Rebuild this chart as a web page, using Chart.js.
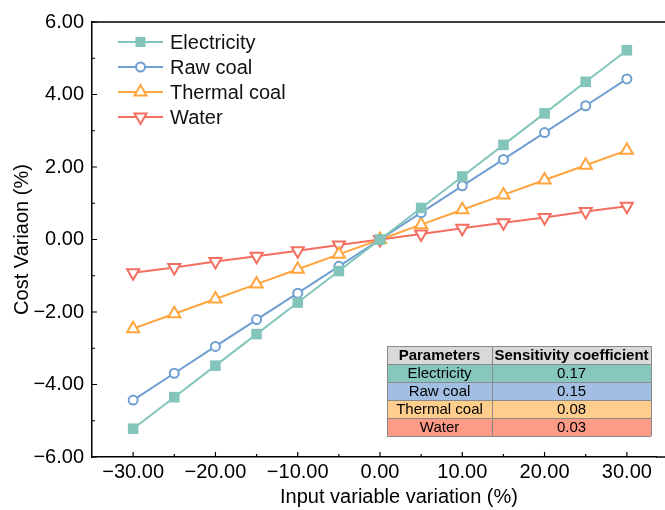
<!DOCTYPE html>
<html><head><meta charset="utf-8">
<script src="https://cdn.jsdelivr.net/npm/chart.js@4/dist/chart.umd.min.js"></script>
<style>html,body{margin:0;padding:0;overflow:hidden;background:#fff}
canvas{display:block}</style>
</head><body>
<canvas id="c" width="665" height="510" style="width:665px;height:510px"></canvas>
<script>
const variation = [-30,-25,-20,-15,-10,-5,0,5,10,15,20,25,30];
const electricity = [-5.22,-4.35,-3.48,-2.61,-1.74,-0.87,0,0.87,1.74,2.61,3.48,4.35,5.22];
const rawCoal = [-4.43,-3.69,-2.95,-2.21,-1.48,-0.74,0,0.74,1.48,2.21,2.95,3.69,4.43];
const thermalCoal = [-2.46,-2.05,-1.64,-1.23,-0.82,-0.41,0,0.41,0.82,1.23,1.64,2.05,2.46];
const water = [-0.92,-0.77,-0.61,-0.46,-0.31,-0.15,0,0.15,0.31,0.46,0.61,0.77,0.92];
const seriesNames = ['Electricity','Raw coal','Thermal coal','Water'];
const sensitivity = ['0.17','0.15','0.08','0.03'];
const tableHeader = ['Parameters','Sensitivity coefficient'];
const xTitle = 'Input variable variation (%)';
const yTitle = 'Cost Variaon (%)';
const xTicks = [-30,-20,-10,0,10,20,30];
const xMinorTicks = [-25,-15,-5,5,15,25];
const yTicks = [-6,-4,-2,0,2,4,6];
const yMinorTicks = [-5,-3,-1,1,3,5];
const xRange = [-35, 35];          // full axis range of the original (cropped on the right)
const ORIGINAL_PLOT_RIGHT = 668;   // where the original plot's right edge would be (off-canvas)

const colors = ['#84c5bb','#6f9fd2','#ffa53e','#f46f60'];
const tableFills = ['#86c7be','#a2bfe3','#ffcd8c','#fe9b87'];
const styles = [
  {pointStyle:'rect', radius:7.5, bg:'#84c5bb', rot:0},
  {pointStyle:'circle', radius:4.5, bg:'#ffffff', rot:0},
  {pointStyle:'triangle', radius:7, bg:'#ffffff', rot:0},
  {pointStyle:'triangle', radius:7, bg:'#ffffff', rot:180}
];
const seriesValues = [electricity, rawCoal, thermalCoal, water];

const datasets = seriesValues.map((vals,i)=>({
  label: seriesNames[i],
  data: variation.map((x,j)=>({x:x, y:vals[j]})),
  borderColor: colors[i],
  backgroundColor: colors[i],
  borderWidth: 2,
  pointStyle: styles[i].pointStyle,
  pointRadius: styles[i].radius,
  pointRotation: styles[i].rot,
  pointBackgroundColor: styles[i].bg,
  pointBorderColor: colors[i],
  pointBorderWidth: i===0?0:2,
  tension: 0,
  order: i
}));

const FONT = 'Liberation Sans, Arial, sans-serif';

function fmt(v){ return (v<0?'\u2212':'') + Math.abs(v).toFixed(2); }

function drawMarker(ctx, i, x, y){
  const c = colors[i];
  ctx.save();
  ctx.lineWidth = 2;
  ctx.strokeStyle = c;
  if(i===0){ ctx.fillStyle = c; ctx.fillRect(x-5,y-5,10,10); }
  else if(i===1){ ctx.fillStyle='#fff'; ctx.beginPath(); ctx.arc(x,y,4.5,0,Math.PI*2); ctx.fill(); ctx.stroke(); }
  else {
    const r = 7, s = (i===3)?-1:1;
    ctx.fillStyle='#fff';
    ctx.beginPath();
    ctx.moveTo(x, y - s*r);
    ctx.lineTo(x + r*Math.sin(Math.PI/3), y + s*r*0.5);
    ctx.lineTo(x - r*Math.sin(Math.PI/3), y + s*r*0.5);
    ctx.closePath(); ctx.fill(); ctx.stroke();
  }
  ctx.restore();
}

const decor = {
  id:'decor',
  afterDraw(chart){
    const ctx = chart.ctx, a = chart.chartArea;
    const xs = chart.scales.x, ys = chart.scales.y;
    ctx.save();
    ctx.strokeStyle = '#000'; ctx.lineWidth = 1.5;
    ctx.beginPath();
    ctx.moveTo(a.left, a.top); ctx.lineTo(chart.width, a.top);
    ctx.moveTo(a.right, a.bottom); ctx.lineTo(chart.width, a.bottom);
    ctx.stroke();
    ctx.lineWidth = 1.2;
    ctx.beginPath();
    xTicks.forEach(v=>{ const p = xs.getPixelForValue(v); ctx.moveTo(p,a.bottom); ctx.lineTo(p,a.bottom-5); });
    xMinorTicks.forEach(v=>{ const p = xs.getPixelForValue(v); ctx.moveTo(p,a.bottom); ctx.lineTo(p,a.bottom-3); });
    yTicks.forEach(v=>{ const p = ys.getPixelForValue(v); ctx.moveTo(a.left,p); ctx.lineTo(a.left+5,p); });
    yMinorTicks.forEach(v=>{ const p = ys.getPixelForValue(v); ctx.moveTo(a.left,p); ctx.lineTo(a.left+3,p); });
    ctx.stroke();

    ctx.font = '20px ' + FONT;
    ctx.fillStyle = '#000';
    ctx.textAlign = 'center';
    ctx.textBaseline = 'middle';
    ctx.fillText(xTitle, 399, 497);

    const lx0 = 118, lx1 = 163, tx = 170;
    const ly = [42,67,92,117];
    ctx.textAlign = 'left';
    seriesNames.forEach((n,i)=>{
      ctx.strokeStyle = colors[i]; ctx.lineWidth = 2;
      ctx.beginPath(); ctx.moveTo(lx0, ly[i]); ctx.lineTo(lx1, ly[i]); ctx.stroke();
      drawMarker(ctx, i, (lx0+lx1)/2, ly[i]);
      ctx.fillStyle = '#111';
      ctx.fillText(n, tx, ly[i]+1);
    });

    const x0 = 387, xm = 492, x1 = 651, y0 = 346, rh = 18;
    ctx.fillStyle = '#d9d9d9';
    ctx.fillRect(x0, y0, x1-x0, rh);
    tableFills.forEach((f,i)=>{ ctx.fillStyle = f; ctx.fillRect(x0, y0+rh*(i+1), x1-x0, rh); });
    ctx.strokeStyle = '#8a8a8a'; ctx.lineWidth = 1;
    ctx.beginPath();
    for(let r=0;r<=5;r++){ ctx.moveTo(x0, y0+rh*r+0.5); ctx.lineTo(x1, y0+rh*r+0.5); }
    ctx.moveTo(x0+0.5,y0); ctx.lineTo(x0+0.5,y0+rh*5);
    ctx.moveTo(xm+0.5,y0); ctx.lineTo(xm+0.5,y0+rh*5);
    ctx.moveTo(x1+0.5,y0); ctx.lineTo(x1+0.5,y0+rh*5);
    ctx.stroke();
    ctx.textAlign = 'center';
    ctx.fillStyle = '#000';
    ctx.font = 'bold 15px ' + FONT;
    ctx.fillText(tableHeader[0], (x0+xm)/2, y0+rh/2+1);
    ctx.fillText(tableHeader[1], (xm+x1)/2, y0+rh/2+1);
    ctx.font = '15px ' + FONT;
    seriesNames.forEach((n,i)=>{
      const cy = y0+rh*(i+1)+rh/2+1;
      ctx.fillText(n, (x0+xm)/2, cy);
      ctx.fillText(sensitivity[i], (xm+x1)/2, cy);
    });
    ctx.restore();
  }
};

const chart = new Chart(document.getElementById('c'), {
  type:'line',
  data:{datasets},
  options:{
    responsive:false,
    animation:false,
    layout:{padding:{left:0,top:22,right:0,bottom:0}},
    plugins:{legend:{display:false}, tooltip:{enabled:false}},
    scales:{
      x:{
        type:'linear', min:xRange[0], max:xRange[1],
        afterBuildTicks(s){ s.ticks = xTicks.map(v=>({value:v})); },
        afterFit(s){ s.height = 53; s.paddingLeft = 0; s.paddingRight = 0; },
        grid:{display:false, drawTicks:false},
        border:{display:true, color:'#000', width:1.5},
        ticks:{padding:3, color:'#000', font:{family:FONT, size:20}, callback:(v)=>fmt(v), maxRotation:0, autoSkip:false},
        title:{display:false}
      },
      y:{
        type:'linear', min:-6, max:6,
        afterBuildTicks(s){ s.ticks = yTicks.map(v=>({value:v})); },
        afterFit(s){ s.width = 92; },
        grid:{display:false, drawTicks:false},
        border:{display:true, color:'#000', width:1.5},
        ticks:{padding:8, color:'#000', font:{family:FONT, size:20}, callback:(v)=>fmt(v)},
        title:{display:true, text:yTitle, color:'#000', font:{family:FONT, size:20}, padding:{top:10,bottom:0}}
      }
    }
  },
  plugins:[decor]
});

// The original axis runs -35..35 up to an off-canvas right edge; show only the visible part
// by trimming the axis maximum to the actual plot width Chart.js laid out.
(function fitVisibleRange(){
  const a = chart.chartArea;
  const unit = (ORIGINAL_PLOT_RIGHT - a.left) / (xRange[1] - xRange[0]);
  chart.options.scales.x.max = xRange[0] + (a.right - a.left) / unit;
  chart.update('none');
})();
</script>
</body></html>
